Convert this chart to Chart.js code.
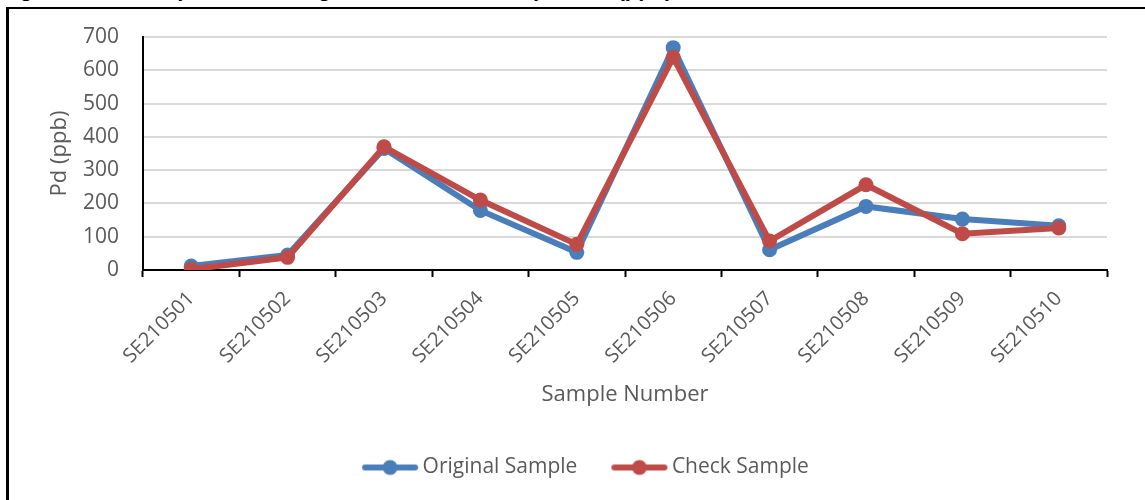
<!DOCTYPE html>
<html>
<head>
<meta charset="utf-8">
<title>Pd (ppb) original vs check samples</title>
<script src="https://cdn.jsdelivr.net/npm/chart.js@4/dist/chart.umd.min.js"></script>
<style>
  html, body { margin: 0; padding: 0; background: #fff; }
  body { width: 1145px; height: 500px; position: relative; overflow: hidden; }
  .fig-title {
    position: absolute; left: 0; top: -24px; line-height: 22px;
    font: bold 22px "Liberation Sans", Arial, sans-serif; color: #000;
    white-space: nowrap;
  }
  .frame {
    position: absolute; left: 6px; top: 7px; width: 1160px; height: 520px;
    border-top: 2px solid #000; border-left: 3px solid #000; box-sizing: border-box;
  }
  .chart-wrap { position: absolute; left: 0; top: 0; width: 1145px; height: 500px; }
</style>
</head>
<body>
<div class="fig-title">Figure 11.5: Comparison of original and check samples Pd (ppb) results</div>
<div class="frame"></div>
<div class="chart-wrap"><canvas id="pdChart"></canvas></div>

<script>
  // values
  const samples = ['SE210501', 'SE210502', 'SE210503', 'SE210504', 'SE210505',
                   'SE210506', 'SE210507', 'SE210508', 'SE210509', 'SE210510'];
  const originalSample = [12, 45, 365, 179, 53, 668, 61, 191, 153, 133];
  const checkSample = [2, 38, 370, 210, 77, 639, 87, 256, 109, 126];
  const yTicks = [0, 100, 200, 300, 400, 500, 600, 700];

  const BLUE = '#4a7ebb';
  const RED = '#be4b48';
  const GREY_TEXT = '#595959';
  const FONT = '"Open Sans", sans-serif';
  const LEGEND_SHIFT = 32; // excel legend sits a bit right of the plot centre

  // legend marker: line with a dot in the middle, like the Excel one.
  // drawn 7px in from the left so it sits close to its label text
  function legendMarker(color) {
    const c = document.createElement('canvas');
    c.width = 64; c.height = 18;
    const g = c.getContext('2d');
    g.strokeStyle = color; g.lineWidth = 6; g.lineCap = 'round';
    g.beginPath(); g.moveTo(10, 9); g.lineTo(60, 9); g.stroke();
    g.fillStyle = color;
    g.beginPath(); g.arc(35, 9, 7.5, 0, Math.PI * 2); g.fill();
    return c;
  }

  const shiftLegend = {
    id: 'shiftLegend',
    afterLayout(chart) {
      if (!chart.legend) return;
      chart.legend.left += LEGEND_SHIFT;
      chart.legend.right += LEGEND_SHIFT;
    }
  };

  const ctx = document.getElementById('pdChart').getContext('2d');
  new Chart(ctx, {
    type: 'line',
    data: {
      labels: samples,
      datasets: [
        // red series is painted over the blue one in the original, hence the order values
        { label: 'Original Sample', data: originalSample, borderColor: BLUE, backgroundColor: BLUE,
          borderWidth: 6, pointRadius: 7.5, pointHoverRadius: 7.5, pointStyle: 'circle',
          pointBorderWidth: 0, tension: 0, order: 1, legendMarker: legendMarker(BLUE) },
        { label: 'Check Sample', data: checkSample, borderColor: RED, backgroundColor: RED,
          borderWidth: 6, pointRadius: 7.5, pointHoverRadius: 7.5, pointStyle: 'circle',
          pointBorderWidth: 0, tension: 0, order: 0, legendMarker: legendMarker(RED) }
      ]
    },
    plugins: [shiftLegend],
    options: {
      responsive: true,
      maintainAspectRatio: false,
      animation: false,
      layout: { padding: { left: 0, right: 38, top: 37, bottom: 12 } },
      plugins: {
        tooltip: { enabled: false },
        legend: {
          position: 'bottom',
          labels: {
            color: GREY_TEXT,
            font: { family: FONT, size: 21 },
            usePointStyle: true,
            pointStyleWidth: 50,
            padding: 34,
            generateLabels(chart) {
              return chart.data.datasets.map((ds, i) => ({
                text: ds.label,
                pointStyle: ds.legendMarker,
                fillStyle: ds.borderColor,
                strokeStyle: ds.borderColor,
                lineWidth: 0,
                fontColor: GREY_TEXT,
                hidden: false,
                datasetIndex: i
              }));
            }
          }
        }
      },
      scales: {
        x: {
          offset: true,
          grid: { offset: true, drawOnChartArea: false, drawTicks: true, tickLength: 7,
                  tickColor: '#000', tickWidth: 2 },
          border: { color: '#000', width: 2 },
          ticks: { color: GREY_TEXT, font: { family: FONT, size: 20 }, minRotation: 45, maxRotation: 45,
                   padding: 10, autoSkip: false },
          title: { display: true, text: 'Sample Number', color: GREY_TEXT,
                   font: { family: FONT, size: 22 }, padding: { top: 0, bottom: 15 } },
          afterFit(scale) { scale.height = 153; }
        },
        y: {
          min: 0, max: 700,
          afterBuildTicks(scale) { scale.ticks = yTicks.map(v => ({ value: v })); },
          grid: { color: '#d9d9d9', lineWidth: 2, drawTicks: false },
          border: { color: '#000', width: 2 },
          ticks: { color: GREY_TEXT, font: { family: FONT, size: 21 }, padding: 24 },
          title: { display: true, text: 'Pd (ppb)', color: GREY_TEXT,
                   font: { family: FONT, size: 22 }, padding: { top: 47, bottom: 0 } },
          afterFit(scale) { scale.width = 143; }
        }
      }
    }
  });
</script>
</body>
</html>
